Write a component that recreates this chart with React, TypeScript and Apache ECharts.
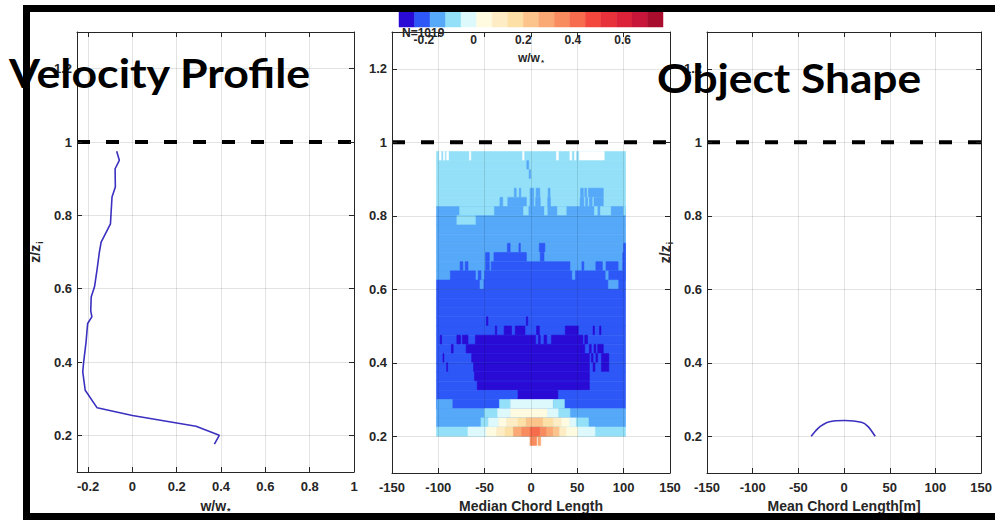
import React, { useEffect, useRef } from 'react';
import * as echarts from 'echarts';

// ---------- data ----------
const PROFILE_W = [-0.071, -0.059, -0.078, -0.077, -0.092, -0.099, -0.141, -0.149, -0.159, -0.171, -0.186, -0.188, -0.183, -0.202, -0.209, -0.22, -0.224, -0.213, -0.159, 0.0, 0.287, 0.392, 0.37];
const PROFILE_Z = [0.975, 0.95, 0.927, 0.877, 0.85, 0.777, 0.727, 0.7, 0.654, 0.605, 0.577, 0.54, 0.523, 0.505, 0.455, 0.4, 0.373, 0.323, 0.275, 0.254, 0.225, 0.2, 0.176];

const SHAPE_X = [-36, -31, -26, -17, 1, 19, 26, 34];
const SHAPE_Z = [0.2, 0.215, 0.227, 0.239, 0.243, 0.238, 0.227, 0.2];

const W_TICKS = [-0.2, 0, 0.2, 0.4, 0.6, 0.8, 1];
const Y_TICKS = [0.2, 0.4, 0.6, 0.8, 1, 1.2];
const CB_TICKS = [-0.2, 0, 0.2, 0.4, 0.6];

const CB_COLORS = ['#2a0bd5', '#2d58f7', '#56a8f9', '#93e0f8', '#def9fc', '#fffbe0', '#feecc4', '#fde0a6', '#fcc48a', '#fba974', '#f98c5e', '#f76c4c', '#f3473e', '#e8323b', '#db2238', '#c8153a', '#a90d2e'];
const CB_MIN = -0.3;
const CB_STEP = 0.0625;

const ZI_LEVEL = 1;
const N_SAMPLES = 1019;

const HEAT_X_EXTENT = [-102, 102];
const HEAT_ROW_HEIGHT = 0.025;
// [row bottom z/zi, base w/w*, [x0, x1, w/w* (null = no data)][]]
const HEAT_ROWS: [number, number | null, [number, number, number | null][]][] = [
  [0.95, -0.08, [[-99, -97, null], [-94.5, -93, null], [-91, -89, null], [-66.5, -65, null], [-9, -7.5, null], [27.5, 29.5, null], [42, 44, null], [47, 48.5, null], [52, 79, null]]],
  [0.925, -0.08, [[-4.5, -2.5, -0.14]]],
  [0.9, -0.08, [[-2, -0.3, -0.14]]],
  [0.875, -0.08, []],
  [0.85, -0.08, [[-18, -16, -0.14], [-12.6, -11, -0.14], [-1, 3, -0.14], [5.5, 9.5, -0.14], [18.5, 20.5, -0.14], [53.5, 56.5, -0.14], [58, 60, -0.14], [62, 78, -0.14]]],
  [0.825, -0.08, [[-33.5, -30.5, -0.14], [-25, -5, -0.14], [-1, 3, -0.14], [5, 10, -0.14], [18, 21, -0.14], [53, 57, -0.14], [59, 61, -0.14], [63, 66, -0.14], [68, 78, -0.14]]],
  [0.8, -0.14, [[-77, -40, -0.08], [-8, -3, -0.08], [14.5, 17.5, -0.08], [28.5, 38, -0.08], [68.5, 71.5, -0.08], [75, 86, -0.08], [100, 102, -0.08]]],
  [0.775, -0.14, [[-80, -60, -0.08]]],
  [0.75, -0.14, []],
  [0.725, -0.14, []],
  [0.7, -0.14, [[-25.5, -22.5, -0.21], [-13, -11.5, -0.21], [9, 15, -0.21], [100, 102, -0.21]]],
  [0.675, -0.14, [[-49, -45, -0.21], [-40, -5, -0.21], [10, 14, -0.21], [99, 102, -0.21]]],
  [0.65, -0.14, [[-76.5, -73.5, -0.21], [-71, -68, -0.21], [-49, -45, -0.21], [-43, 42, -0.21], [55, 57, -0.21], [70, 77, -0.21], [81, 94, -0.21], [99, 102, -0.21]]],
  [0.625, -0.14, [[-87, -60, -0.21], [-57, -54, -0.21], [-50, 44, -0.21], [48, 80, -0.21], [84, 102, -0.21]]],
  [0.6, -0.21, [[-55, -51.5, -0.14], [83.5, 94, -0.14]]],
  [0.575, -0.21, []],
  [0.55, -0.21, []],
  [0.525, -0.21, []],
  [0.5, -0.21, [[-48, -46.5, -0.27], [-5, -3.5, -0.27]]],
  [0.475, -0.21, [[-38.5, -37, -0.27], [-29, -21, -0.27], [-17, -6.5, -0.27], [6, 9, -0.27], [37, 51, -0.27], [67, 68.5, -0.27], [74, 75.5, -0.27]]],
  [0.45, -0.21, [[-98, -96.5, -0.27], [-80, -76, -0.27], [-74, -68, -0.27], [-60, 5, -0.27], [8, 10, -0.27], [14, 17, -0.27], [22, 56, -0.27], [58, 61, -0.27]]],
  [0.425, -0.21, [[-86, -84, -0.27], [-70, 58, -0.27], [63, 65, -0.27], [68, 70, -0.27], [72, 78, -0.27]]],
  [0.4, -0.21, [[-95, -94, -0.27], [-64, 63, -0.27], [65, 67, -0.27], [70, 72, -0.27], [76, 84, -0.27]]],
  [0.375, -0.21, [[-91, -90, -0.27], [-62, 63, -0.27], [67, 69, -0.27], [76, 84, -0.27]]],
  [0.35, -0.21, [[-61, 63, -0.27]]],
  [0.325, -0.21, [[-58, 63, -0.27]]],
  [0.3, -0.21, [[-14, 29, -0.27]]],
  [0.275, -0.21, [[-102, -85, -0.14], [-34, -22, -0.08], [-22, 24, -0.02], [24, 36, -0.08]]],
  [0.25, -0.14, [[-50, -36, -0.08], [-36, -22, -0.02], [-22, 18, 0.04], [18, 30, -0.02], [30, 42, -0.08]]],
  [0.225, -0.14, [[-54, -46, -0.08], [-46, -35, -0.02], [-35, -26, 0.04], [-26, -14, 0.1], [-14, -5, 0.17], [-5, 13, 0.23], [13, 24, 0.17], [24, 33, 0.1], [33, 42, 0.04], [42, 49, -0.02], [49, 62, -0.08]]],
  [0.2, -0.08, [[-68, -48, -0.02], [-48, -37, 0.04], [-37, -28, 0.1], [-28, -19, 0.17], [-19, -10, 0.29], [-10, -1, 0.35], [-1, 10, 0.42], [10, 17, 0.35], [17, 24, 0.29], [24, 31, 0.23], [31, 38.5, 0.1], [38.5, 51, 0.04], [51, 69, -0.02]]],
  [0.175, null, [[-1, 6, 0.35], [7.5, 10.5, 0.29]]],
];

// ---------- helpers ----------
const TXT = '#262626';
const FONT = "'Liberation Sans', Arial, sans-serif";
const TITLE_FONT = "bold 41px Lato, 'Open Sans', sans-serif";

function colorFor(w: number | null): string {
  if (w === null) return '#ffffff';
  let i = Math.floor((w - CB_MIN) / CB_STEP);
  if (i < 0) i = 0;
  if (i > CB_COLORS.length - 1) i = CB_COLORS.length - 1;
  return CB_COLORS[i];
}

type Cell = { x0: number; x1: number; y0: number; y1: number; w: number | null };
const cells: Cell[] = [];
HEAT_ROWS.forEach(([yb, base, segs]) => {
  if (base !== null) cells.push({ x0: HEAT_X_EXTENT[0], x1: HEAT_X_EXTENT[1], y0: yb, y1: yb + HEAT_ROW_HEIGHT, w: base });
  segs.forEach(([a, b, w]) => cells.push({ x0: a, x1: b, y0: yb, y1: yb + HEAT_ROW_HEIGHT, w }));
});

const sub = (main: string, s: string) => `{a|${main}}{s|${s}}`;
const richName = (size: number) => ({
  a: { fontSize: size, fontWeight: 'bold', fontFamily: FONT, color: TXT },
  s: { fontSize: Math.round(size * 0.65), fontWeight: 'bold', fontFamily: FONT, color: TXT, padding: [9, 0, 0, 1] },
});

const lineStyleAxis = { show: true, onZero: false, lineStyle: { color: TXT, width: 1 } };
const labelStyle = { color: TXT, fontSize: 13, fontWeight: 'bold', fontFamily: FONT, showMinLabel: true, showMaxLabel: true };
const splitStyle = { show: true, lineStyle: { color: 'rgba(0,0,0,0.11)', width: 1 } };

function xAxes(gridIndex: number, min: number, max: number, ticks: number[] | null, name: string, nameRich: boolean) {
  const tickCfg: any = { show: true, inside: true, length: 5, lineStyle: { color: TXT } };
  const lab: any = { ...labelStyle, margin: 8 };
  const base: any = { type: 'value', gridIndex, min, max, z: 5 };
  if (ticks) { tickCfg.customValues = ticks; lab.customValues = ticks; } else { base.interval = 50; }
  return [
    {
      ...base, position: 'bottom', axisLine: lineStyleAxis, axisTick: tickCfg, axisLabel: lab, splitLine: splitStyle,
      name, nameLocation: 'middle', nameGap: 25,
      nameTextStyle: nameRich ? { rich: richName(14) } : { fontSize: 14, fontWeight: 'bold', fontFamily: FONT, color: TXT },
    },
    { ...base, position: 'top', axisLine: lineStyleAxis, axisTick: { ...tickCfg }, axisLabel: { show: false, customValues: ticks || undefined }, splitLine: { show: false } },
  ];
}

function yAxes(gridIndex: number, name: string | null) {
  const tickCfg: any = { show: true, inside: true, length: 5, lineStyle: { color: TXT }, customValues: Y_TICKS };
  const base: any = { type: 'value', gridIndex, min: 0.1, max: 1.3, z: 5 };
  return [
    {
      ...base, position: 'left', axisLine: lineStyleAxis, axisTick: tickCfg,
      axisLabel: { ...labelStyle, margin: 5, customValues: Y_TICKS }, splitLine: splitStyle,
      name: name || '', nameLocation: 'middle', nameGap: 33, nameRotate: 90,
      nameTextStyle: { rich: richName(14) },
    },
    { ...base, position: 'right', axisLine: lineStyleAxis, axisTick: { ...tickCfg }, axisLabel: { show: false, customValues: Y_TICKS }, splitLine: { show: false } },
  ];
}

function dashed(xi: number, yi: number, x0: number, x1: number) {
  return {
    type: 'line', xAxisIndex: xi, yAxisIndex: yi, data: [[x0, ZI_LEVEL], [x1, ZI_LEVEL]], showSymbol: false, silent: true,
    lineStyle: { color: '#000', width: 4, type: [13, 16] }, z: 3,
  };
}

function buildOption(): any {
  const cbMax = CB_MIN + CB_COLORS.length * CB_STEP;
  return {
    animation: false,
    backgroundColor: '#ffffff',
    grid: [
      { left: 77, top: 32, width: 277, height: 441 },
      { left: 392, top: 32, width: 278, height: 441 },
      { left: 707, top: 32, width: 278, height: 441 },
      { left: 399, top: 8, width: 264, height: 19 },
    ],
    xAxis: [
      ...xAxes(0, -0.25, 1, W_TICKS, sub('w/w', '*'), true),
      ...xAxes(1, -150, 150, null, 'Median Chord Length', false),
      ...xAxes(2, -150, 150, null, 'Mean Chord Length[m]', false),
      {
        type: 'value', gridIndex: 3, min: CB_MIN, max: cbMax, z: 6,
        axisLine: { show: false }, axisTick: { show: false }, splitLine: { show: false },
        axisLabel: { color: TXT, fontSize: 12, fontWeight: 'bold', fontFamily: FONT, margin: 7, customValues: CB_TICKS },
        name: sub('w/w', '*'), nameLocation: 'middle', nameGap: 22, nameTextStyle: { rich: richName(12) },
      },
    ],
    yAxis: [
      ...yAxes(0, sub('z/z', 'i')),
      ...yAxes(1, null),
      ...yAxes(2, sub('z/z', 'i')),
      { type: 'value', gridIndex: 3, min: 0, max: 1, show: false },
    ],
    series: [
      {
        type: 'line', xAxisIndex: 0, yAxisIndex: 0, showSymbol: false, z: 4,
        data: PROFILE_W.map((w, i) => [w, PROFILE_Z[i]]),
        lineStyle: { color: '#3b30c0', width: 1.6 },
      },
      dashed(0, 0, -0.25, 1),
      {
        type: 'custom', xAxisIndex: 2, yAxisIndex: 2, z: 2,
        encode: { x: [0, 1], y: [2, 3] },
        data: cells.map((c, i) => [c.x0, c.x1, c.y0, c.y1, i]),
        renderItem: (_p: any, api: any) => {
          const c = cells[api.value(4)];
          const a = api.coord([c.x0, c.y1]);
          const b = api.coord([c.x1, c.y0]);
          const col = colorFor(c.w);
          return {
            type: 'rect',
            shape: { x: a[0], y: a[1], width: b[0] - a[0], height: b[1] - a[1] },
            style: { fill: col, stroke: col, lineWidth: 0.6 },
          };
        },
      },
      dashed(2, 2, -150, 150),
      {
        type: 'line', xAxisIndex: 4, yAxisIndex: 4, showSymbol: false, z: 4, smooth: 0.3,
        data: SHAPE_X.map((x, i) => [x, SHAPE_Z[i]]),
        lineStyle: { color: '#3b30c0', width: 1.6 },
      },
      dashed(4, 4, -150, 150),
      {
        type: 'custom', xAxisIndex: 6, yAxisIndex: 6,
        encode: { x: [0, 1], y: [2, 3] },
        data: CB_COLORS.map((_c, i) => [CB_MIN + i * CB_STEP, CB_MIN + (i + 1) * CB_STEP, 0, 1, i]),
        renderItem: (_p: any, api: any) => {
          const a = api.coord([api.value(0), api.value(3)]);
          const b = api.coord([api.value(1), api.value(2)]);
          const col = CB_COLORS[api.value(4)];
          return {
            type: 'rect',
            shape: { x: a[0], y: a[1], width: b[0] - a[0], height: b[1] - a[1] },
            style: { fill: col, stroke: col, lineWidth: 0.5 },
          };
        },
      },
    ],
    graphic: [
      { type: 'text', x: 402, y: 33, z: 50, style: { text: `N=${N_SAMPLES}`, fill: TXT, font: `bold 12px ${FONT}`, verticalAlign: 'middle' } },
      { type: 'text', x: 9, y: 72, scaleX: 1.09, z: 60, style: { text: 'Velocity Profile', fill: '#000', font: TITLE_FONT, verticalAlign: 'middle' } },
      { type: 'text', x: 657, y: 77, scaleX: 1.08, z: 60, style: { text: 'Object Shape', fill: '#000', font: TITLE_FONT, verticalAlign: 'middle' } },
      { type: 'rect', z: 70, shape: { x: 23, y: 5, width: 972, height: 7 }, style: { fill: '#000' } },
      { type: 'rect', z: 70, shape: { x: 23, y: 5, width: 7, height: 515, r: 2 }, style: { fill: '#000' } },
      { type: 'rect', z: 70, shape: { x: 23, y: 513, width: 972, height: 7 }, style: { fill: '#000' } },
    ],
  };
}

export default function App() {
  const ref = useRef<HTMLDivElement>(null);
  useEffect(() => {
    if (!ref.current) return;
    const chart = echarts.init(ref.current, undefined, { renderer: 'svg' });
    chart.setOption(buildOption());
    return () => chart.dispose();
  }, []);
  return <div ref={ref} style={{ position: 'absolute', left: 0, top: 0, width: 995, height: 520, background: '#ffffff' }} />;
}
